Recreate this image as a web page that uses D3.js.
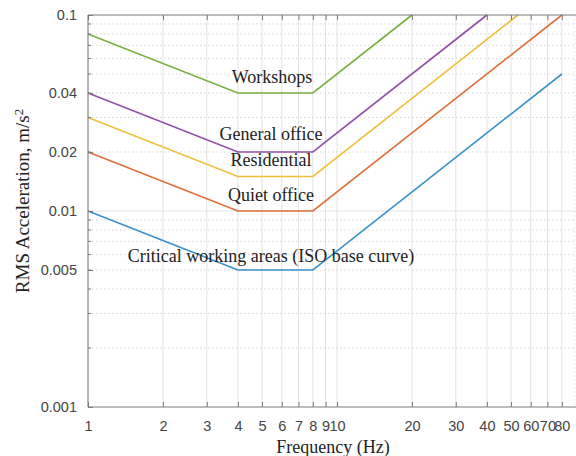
<!DOCTYPE html>
<html>
<head>
<meta charset="utf-8">
<script src="https://cdn.jsdelivr.net/npm/d3@7"></script>
<style>
  body { margin: 0; background: #fff; }
  svg { display: block; }
</style>
</head>
<body>
<div id="chart"></div>
<script>
// curve break points: [frequency Hz, rms acceleration m/s2]
var isoBase     = [[1, 0.01], [4, 0.005], [8, 0.005], [80, 0.05]];
var quietOffice = [[1, 0.02], [4, 0.01], [8, 0.01], [80, 0.1]];
var residential = [[1, 0.03], [4, 0.015], [8, 0.015], [53.3, 0.1]];
var genOffice   = [[1, 0.04], [4, 0.02], [8, 0.02], [40, 0.1]];
var workshops   = [[1, 0.08], [4, 0.04], [8, 0.04], [20, 0.1]];

var curveNames = ["Critical working areas (ISO base curve)", "Quiet office", "Residential", "General office", "Workshops"];
var curveColors = ["#3a90c8", "#e06d3a", "#eebf3c", "#9150a6", "#78b043"];

var xTicks = [1, 2, 3, 4, 5, 6, 7, 8, 9, 10, 20, 30, 40, 50, 60, 70, 80];
var xTickLabels = ["1", "2", "3", "4", "5", "6", "7", "8", "9", "10", "20", "30", "40", "50", "60", "70", "80"];
var yTicks = [0.001, 0.005, 0.01, 0.02, 0.04, 0.1];
var yTickLabels = ["0.001", "0.005", "0.01", "0.02", "0.04", "0.1"];
var yMinor = [0.002, 0.003, 0.004, 0.005, 0.006, 0.007, 0.008, 0.009,
              0.02, 0.03, 0.04, 0.05, 0.06, 0.07, 0.08, 0.09];

var width = 576, height = 456;
var plotLeft = 88, plotTop = 15, plotBottom = 407;

var svg = d3.select("#chart").append("svg")
    .attr("width", width)
    .attr("height", height);

var x = d3.scaleLog().domain([1, 100]).range([plotLeft, 586]);
var y = d3.scaleLog().domain([0.001, 0.1]).range([plotBottom, plotTop]);

// grid
var grid = svg.append("g");
grid.selectAll(".vgrid")
    .data(xTicks)
    .enter().append("line")
    .attr("x1", d => x(d)).attr("x2", d => x(d))
    .attr("y1", plotTop).attr("y2", plotBottom)
    .attr("stroke", "#e2e2e2").attr("stroke-width", 1);
grid.append("line")
    .attr("x1", x(90)).attr("x2", x(90))
    .attr("y1", plotTop).attr("y2", plotBottom)
    .attr("stroke", "#e2e2e2").attr("stroke-dasharray", "1.5,2.5");
grid.selectAll(".hgrid")
    .data(yMinor)
    .enter().append("line")
    .attr("x1", plotLeft).attr("x2", width)
    .attr("y1", d => y(d)).attr("y2", d => y(d))
    .attr("stroke", "#d6d6d6").attr("stroke-width", 1)
    .attr("stroke-dasharray", "1.5,2.5");
grid.append("line")
    .attr("x1", plotLeft).attr("x2", width)
    .attr("y1", y(0.01)).attr("y2", y(0.01))
    .attr("stroke", "#e2e2e2");

// curves
var line = d3.line()
    .x(d => x(d[0]))
    .y(d => y(d[1]));

var curves = [isoBase, quietOffice, residential, genOffice, workshops];
svg.append("g").selectAll("path")
    .data(curves)
    .enter().append("path")
    .attr("d", line)
    .attr("fill", "none")
    .attr("stroke", (d, i) => curveColors[i])
    .attr("stroke-width", 1.6);

// axes (MATLAB style, inward ticks)
var axisColor = "#7a7a7a";
var xAxis = d3.axisBottom(x).tickValues(xTicks)
    .tickFormat((d, i) => xTickLabels[i])
    .tickSizeInner(-5).tickSizeOuter(0).tickPadding(14);
var gx = svg.append("g")
    .attr("transform", "translate(0," + plotBottom + ")")
    .call(xAxis);
gx.select(".domain").remove();
gx.append("line").attr("x1", plotLeft).attr("x2", width).attr("stroke", axisColor);

var xTop = d3.axisTop(x).tickValues(xTicks).tickFormat("")
    .tickSizeInner(-5).tickSizeOuter(0);
var gxt = svg.append("g")
    .attr("transform", "translate(0," + plotTop + ")")
    .call(xTop);
gxt.select(".domain").remove();
gxt.append("line").attr("x1", plotLeft).attr("x2", width).attr("stroke", axisColor);

var yAxis = d3.axisLeft(y).tickValues(yTicks)
    .tickFormat((d, i) => yTickLabels[i])
    .tickSizeInner(-5).tickSizeOuter(0).tickPadding(11);
var gy = svg.append("g")
    .attr("transform", "translate(" + plotLeft + ",0)")
    .call(yAxis);
gy.select(".domain").remove();
gy.append("line").attr("y1", plotTop).attr("y2", plotBottom).attr("stroke", axisColor);
gy.selectAll(".minor")
    .data(yMinor)
    .enter().append("line")
    .attr("x1", 0).attr("x2", 3)
    .attr("y1", d => y(d)).attr("y2", d => y(d))
    .attr("stroke", axisColor);

[gx, gxt, gy].forEach(function(g) {
    g.selectAll(".tick line").attr("stroke", axisColor);
    g.selectAll(".tick text")
        .attr("fill", "#444")
        .style("font-family", "Liberation Sans, Arial, sans-serif")
        .style("font-size", "14.5px");
});

// curve labels
var serif = "Liberation Serif, Times New Roman, serif";
var labelPos = [[271, 262], [271, 201], [271, 166], [271, 140], [272, 83]];
svg.append("g").selectAll("text")
    .data(curveNames)
    .enter().append("text")
    .attr("x", (d, i) => labelPos[i][0])
    .attr("y", (d, i) => labelPos[i][1])
    .attr("text-anchor", "middle")
    .style("font-family", serif)
    .style("font-size", "18px")
    .attr("fill", "#222")
    .text(d => d);

// axis titles
svg.append("text")
    .attr("x", 333).attr("y", 453)
    .attr("text-anchor", "middle")
    .style("font-family", serif).style("font-size", "18px")
    .attr("fill", "#222")
    .text("Frequency (Hz)");

var yl = svg.append("text")
    .attr("transform", "translate(29,201) rotate(-90)")
    .attr("text-anchor", "middle")
    .style("font-family", serif).style("font-size", "19px")
    .attr("fill", "#222");
yl.append("tspan").text("RMS Acceleration, m/s");
yl.append("tspan").attr("dy", "-0.45em").style("font-size", "13px").text("2");
</script>
</body>
</html>
